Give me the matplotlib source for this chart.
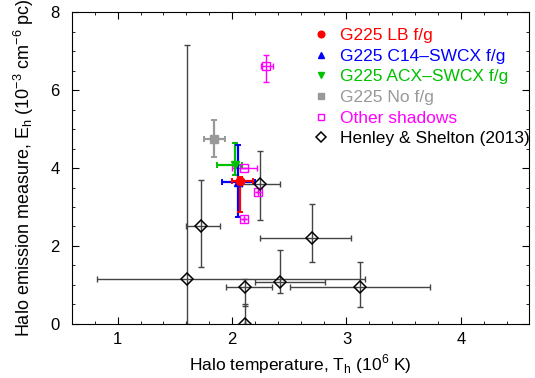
import matplotlib
matplotlib.use("Agg")
import matplotlib.pyplot as plt
from matplotlib.ticker import MultipleLocator

plt.rcParams['font.family'] = ['Liberation Sans', 'DejaVu Sans']

# Henley & Shelton (2013)
hs_x = [1.605, 1.725, 2.246, 2.70, 2.415, 2.115, 3.12, 2.11]
hs_y = [1.16, 2.52, 3.59, 2.21, 1.08, 0.95, 0.96, 0.0]
hs_xlo = [0.785, 0.125, 0.156, 0.46, 0.215, 0.165, 0.61, 0.0]
hs_xhi = [1.555, 0.165, 0.174, 0.34, 0.395, 0.235, 0.61, 0.0]
hs_ylo = [1.16, 1.07, 0.92, 0.62, 0.29, 0.49, 0.53, 0.0]
hs_yhi = [5.99, 1.17, 0.85, 0.87, 0.82, 0.21, 0.63, 0.51]

# Other shadows
os_x = [2.30, 2.107, 2.225, 2.10]
os_y = [6.62, 3.99, 3.39, 2.70]
os_xlo = [0.05, 0.107, 0.0, 0.0]
os_xhi = [0.06, 0.113, 0.0, 0.0]
os_ylo = [0.41, 0.0, 0.0, 0.0]
os_yhi = [0.29, 0.0, 0.0, 0.0]

# G225 fits
g225_labels = ["G225 LB f/g", "G225 C14\u2013SWCX f/g", "G225 ACX\u2013SWCX f/g", "G225 No f/g"]
g225_x = [2.07, 2.054, 2.025, 1.844]
g225_xlo = [0.07, 0.144, 0.16, 0.087]
g225_xhi = [0.11, 0.146, 0.065, 0.093]
g225_y = [3.67, 3.64, 4.09, 4.74]
g225_ylo = [0.79, 0.89, 0.27, 0.47]
g225_yhi = [0.11, 0.95, 0.54, 0.49]
g225_colors = ["#ff0000", "#0000ff", "#00c000", "#999999"]
g225_markers = ["o", "^", "v", "s"]

fig = plt.figure(figsize=(5.35, 3.78), dpi=100)
ax = fig.add_axes([0.1346, 0.143, 0.855, 0.825])

ax.errorbar(hs_x, hs_y, xerr=[hs_xlo, hs_xhi], yerr=[hs_ylo, hs_yhi], fmt="none",
            ecolor="#444444", elinewidth=1.0, capsize=2, capthick=1.0, zorder=2)
ax.errorbar(os_x, os_y, xerr=[os_xlo, os_xhi], yerr=[os_ylo, os_yhi], fmt="none",
            ecolor="#ff00ff", elinewidth=1.0, capsize=2, capthick=1.0, zorder=3)

handles = {}
for i in [3, 2, 1, 0]:
    ax.errorbar([g225_x[i]], [g225_y[i]], xerr=[[g225_xlo[i]], [g225_xhi[i]]],
                yerr=[[g225_ylo[i]], [g225_yhi[i]]], fmt="none", ecolor=g225_colors[i],
                elinewidth=1.6, capsize=2, capthick=1.4, zorder=4)
    handles[i], = ax.plot([g225_x[i]], [g225_y[i]], g225_markers[i], color=g225_colors[i],
                          ms=6, mec=g225_colors[i], zorder=5, label=g225_labels[i])

h_os, = ax.plot(os_x, os_y, "s", mfc="none", mec="#ff00ff", ms=6, mew=1.0, zorder=5,
                label="Other shadows")
h_hs, = ax.plot(hs_x, hs_y, "D", mfc="none", mec="black", ms=6, mew=1.1, zorder=5,
                label="Henley & Shelton (2013)")

ax.set_xlim(0.6, 4.6)
ax.set_ylim(0, 8)
ax.xaxis.set_major_locator(MultipleLocator(1))
ax.xaxis.set_minor_locator(MultipleLocator(0.2))
ax.yaxis.set_major_locator(MultipleLocator(2))
ax.yaxis.set_minor_locator(MultipleLocator(0.5))
ax.tick_params(which="both", direction="in", top=True, right=True, labelsize=12)
ax.tick_params(which="major", length=5)
ax.tick_params(which="minor", length=2.5)
ax.tick_params(axis="x", which="major", pad=6)
ax.tick_params(axis="y", which="major", pad=9)

ax.set_xlabel("Halo temperature, T$_\\mathregular{h}$ (10$^\\mathregular{6}$ K)", fontsize=12.5)
ax.set_ylabel("Halo emission measure, E$_\\mathregular{h}$ (10$^\\mathregular{-3}$ cm$^\\mathregular{-6}$ pc)",
              fontsize=13, labelpad=10)

leg_handles = [handles[0], handles[1], handles[2], handles[3], h_os, h_hs]
leg = ax.legend(handles=leg_handles, loc="upper left", bbox_to_anchor=(0.495, 1.0),
                frameon=False, fontsize=12.5, handlelength=0.8, handletextpad=0.7,
                labelspacing=0.32, numpoints=1, markerscale=0.8)
text_colors = g225_colors + ["#ff00ff", "black"]
for t, c in zip(leg.get_texts(), text_colors):
    t.set_color(c)

fig.savefig("out.png", dpi=100)
